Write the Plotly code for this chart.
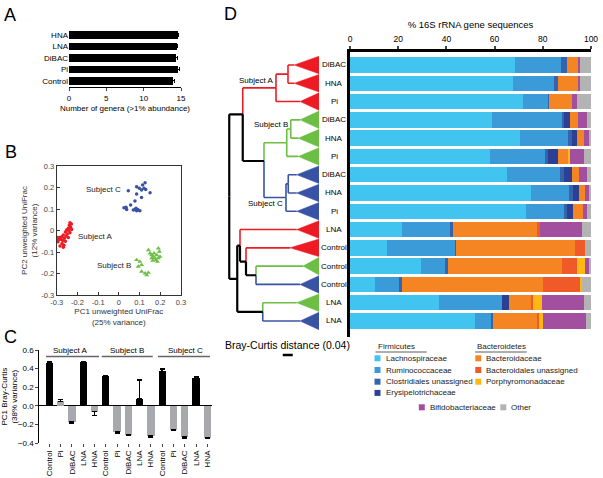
import plotly.graph_objects as go

W, H = 603, 478
def fx(p): return p / W
def fy(p): return 1 - p / H

FONT = "Liberation Sans, Arial, Helvetica, sans-serif"
RED, GREEN, BLUE = "#ED1C24", "#6DBE45", "#3953A4"

# ---------------- Panel A data ----------------
a_groups = ["Control", "Pi", "DiBAC", "LNA", "HNA"]
a_genera = [13.95, 14.65, 14.35, 14.4, 14.6]
a_err = [0.12, 0.12, 0.12, 0.12, 0.12]

# ---------------- Panel B data ----------------
b_a_x = [-0.236, -0.229, -0.239, -0.233, -0.244, -0.228, -0.252, -0.241, -0.236, -0.258, -0.249, -0.268,
         -0.255, -0.244, -0.276, -0.263, -0.287, -0.296, -0.298, -0.292, -0.281, -0.271, -0.258, -0.274,
         -0.265, -0.284, -0.268, -0.294]
b_a_y = [0.036, 0.030, 0.024, 0.015, 0.010, 0.005, 0.002, -0.001, -0.010, -0.007, -0.016, -0.021,
         -0.026, -0.032, -0.029, -0.036, -0.032, -0.033, -0.038, -0.044, -0.041, -0.047, -0.050, -0.060,
         -0.069, -0.072, -0.078, -0.052]
b_c_x = [0.046, 0.086, 0.099, 0.115, 0.127, 0.130, 0.110, 0.122, 0.151, 0.086, 0.110, 0.078, 0.057,
         0.035, 0.025, 0.038, 0.078, 0.086, 0.094, 0.102, 0.083, 0.070, 0.090]
b_c_y = [0.185, 0.204, 0.196, 0.212, 0.222, 0.191, 0.188, 0.196, 0.176, 0.170, 0.154, 0.137, 0.119,
         0.108, 0.106, 0.098, 0.098, 0.092, 0.095, 0.092, 0.103, 0.095, 0.098]
b_b_x = [0.086, 0.102, 0.110, 0.094, 0.110, 0.127, 0.143, 0.135, 0.151, 0.159, 0.167, 0.175, 0.183,
         0.191, 0.196, 0.199, 0.180, 0.170, 0.186, 0.159, 0.143, 0.164, 0.191]
b_b_y = [-0.137, -0.145, -0.160, -0.168, -0.191, -0.199, -0.196, -0.207, -0.106, -0.114, -0.122, -0.129,
         -0.114, -0.083, -0.098, -0.122, -0.137, -0.106, -0.145, -0.129, -0.091, -0.140, -0.129]

# ---------------- Panel C data ----------------
c_treat = ["Control", "Pi", "DiBAC", "LNA", "HNA",
           "Control", "Pi", "DiBAC", "LNA", "HNA",
           "Control", "Pi", "DiBAC", "LNA", "HNA"]
c_subjects = ["Subject A", "Subject B", "Subject C"]
c_values = [0.46, 0.05, -0.17, 0.47, -0.06, 0.32, -0.28, -0.31, 0.08, -0.32, 0.37, -0.255, -0.335, 0.30, -0.34]
c_err = [0.01, 0.02, 0.01, 0.006, 0.04, 0.008, 0.007, 0.005, 0.2, 0.01, 0.025, 0.007, 0.007, 0.015, 0.006]

# ---------------- Panel D data ----------------
d_rows = ["DiBAC", "HNA", "Pi", "DiBAC", "HNA", "Pi", "DiBAC", "HNA", "Pi",
          "LNA", "Control", "Control", "Control", "LNA", "LNA"]
d_subject = ["A", "A", "A", "B", "B", "B", "C", "C", "C", "A", "A", "B", "C", "B", "C"]
families = ["Lachnospiraceae", "Ruminococcaceae", "Clostridiales unassigned", "Erysipelotrichaceae",
            "Bacteroidaceae", "Bacteroidales unassigned", "Porphyromonadaceae", "Bifidobacteriaceae", "Other"]
fam_colors = ["#41C4F0", "#3A9BD8", "#3464AE", "#2B3F93", "#F58423", "#F05A28", "#FDB813", "#A14F9E", "#B3B3B3"]
lachno = [68.5, 67.8, 71.6, 58.8, 70.5, 58.1, 65.0, 75.0, 73.0, 21.7, 15.2, 29.5, 10.4, 37.0, 51.9]
rumino = [19.1, 16.8, 10.7, 29.2, 20.1, 22.8, 22.3, 15.9, 15.6, 20.2, 28.4, 10.3, 10.3, 26.2, 6.9]
clostr = [2.3, 1.8, 0.4, 1.0, 1.5, 1.1, 1.7, 1.5, 1.5, 0.8, 0.2, 0.7, 0.7, 0.0, 0.7]
erysip = [0.0, 0.0, 0.0, 2.3, 2.2, 4.4, 3.0, 2.6, 2.6, 0.0, 0.0, 0.0, 0.0, 2.9, 0.0]
bacter = [4.9, 8.4, 9.3, 3.2, 2.8, 4.2, 2.9, 2.5, 4.1, 34.9, 49.6, 47.3, 58.6, 8.8, 18.0]
bactun = [0.0, 0.0, 0.0, 0.0, 0.0, 0.0, 0.0, 0.0, 0.0, 1.2, 4.1, 6.5, 15.5, 1.1, 1.0]
porphy = [0.0, 0.0, 0.0, 0.0, 0.0, 0.7, 0.0, 0.0, 0.0, 0.0, 0.0, 3.2, 0.7, 3.5, 1.4]
bifido = [0.7, 0.7, 2.3, 4.0, 1.9, 5.8, 3.6, 1.5, 1.7, 17.6, 0.0, 1.7, 0.0, 17.7, 18.1]
other = [4.5, 4.5, 5.7, 1.5, 1.0, 2.9, 1.5, 1.0, 1.5, 3.6, 2.5, 0.8, 3.8, 2.8, 2.0]
d_series = [lachno, rumino, clostr, erysip, bacter, bactun, porphy, bifido, other]

# dendrogram (Bray-Curtis distance from tips; node rows as drawn)
tip_apex = [0.099, 0.099, 0.076, 0.076, 0.083, 0.083, 0.089, 0.089, 0.089,
            0.089, 0.116, 0.064, 0.076, 0.089, 0.076]
node_names = ["A1", "A", "B1", "B", "C1", "C", "BC", "ABC", "CtrlBC", "CtrlA", "LNAA", "LNABC", "Low", "Root"]
node_left = [0, "A1", 3, "B1", 6, "C1", "B", "A", 11, 10, 9, 13, "LNAA", "ABC"]
node_right = [1, 2, 4, 5, 7, 8, "C", "BC", 12, "CtrlBC", "CtrlA", 14, "LNABC", "Low"]
node_height = [0.124, 0.172, 0.113, 0.129, 0.123, 0.132, 0.22, 0.305, 0.252, 0.292, 0.316, 0.225, 0.327, 0.359]
node_row = [0.5, 1.25, 3.5, 4.25, 6.5, 7.25, 5.25, 2.7, 11.5, 10.75, 9.875, 13.5, 11.7, 7.2]
scale_bar = 0.04

fig = go.Figure()

# ---- Panel A
fig.add_trace(go.Bar(x=a_genera, y=a_groups, orientation="h", width=0.65,
                     marker=dict(color="black", line=dict(width=0)),
                     error_x=dict(type="data", array=a_err, color="black", thickness=1, width=2),
                     xaxis="x", yaxis="y"))

# ---- Panel B
fig.add_trace(go.Scatter(x=b_a_x, y=b_a_y, mode="markers", xaxis="x2", yaxis="y2",
                         marker=dict(color=RED, size=3.5, symbol="circle")))
fig.add_trace(go.Scatter(x=b_c_x, y=b_c_y, mode="markers", xaxis="x2", yaxis="y2",
                         marker=dict(color=BLUE, size=3.5, symbol="circle")))
fig.add_trace(go.Scatter(x=b_b_x, y=b_b_y, mode="markers", xaxis="x2", yaxis="y2",
                         marker=dict(color=GREEN, size=4.5, symbol="triangle-up")))

# ---- Panel C
c_pos = list(range(len(c_values)))
c_cols = ["black" if t in ("Control", "LNA") else "#A7A9AC" for t in c_treat]
c_up = [e if v >= 0 else 0 for v, e in zip(c_values, c_err)]
c_dn = [e if v < 0 else 0 for v, e in zip(c_values, c_err)]
fig.add_trace(go.Bar(x=c_pos, y=c_values, width=0.64, xaxis="x3", yaxis="y3",
                     marker=dict(color=c_cols, line=dict(width=0)),
                     error_y=dict(type="data", symmetric=False, array=c_up, arrayminus=c_dn,
                                  color="black", thickness=1.5, width=2.5)))

# ---- Panel D bars
rows = list(range(len(d_rows)))
for name, vals, col in zip(families, d_series, fam_colors):
    fig.add_trace(go.Bar(x=vals, y=rows, orientation="h", width=0.84, name=name,
                         marker=dict(color=col, line=dict(width=0)), xaxis="x4", yaxis="y4"))

# ---- Dendrogram
subj_col = {"A": RED, "B": GREEN, "C": BLUE}
ypos, hpos, colr = {}, {}, {}
for i in rows:
    ypos[i] = i
    hpos[i] = tip_apex[i]
    colr[i] = subj_col[d_subject[i]]
segs = {}
def seg(c, x0, y0, x1, y1):
    xs, ys = segs.setdefault(c, ([], []))
    xs.extend([x0, x1, None]); ys.extend([y0, y1, None])
for n, l, r, h, yr in zip(node_names, node_left, node_right, node_height, node_row):
    ypos[n] = yr
    hpos[n] = h
    colr[n] = colr[l] if colr[l] == colr[r] else "black"
    seg(colr[l], h, ypos[l], h, ypos[n])
    seg(colr[r], h, ypos[n], h, ypos[r])
    for ch in (l, r):
        seg(colr[ch], h, ypos[ch], hpos[ch], ypos[ch])
for c, (xs, ys) in segs.items():
    fig.add_trace(go.Scatter(x=xs, y=ys, mode="lines", xaxis="x5", yaxis="y5",
                             line=dict(color=c, width=2.2 if c == "black" else 1.6)))
tri = {}
for i in rows:
    xs, ys = tri.setdefault(colr[i], ([], []))
    xs.extend([tip_apex[i], 0, 0, tip_apex[i], None])
    ys.extend([i, i - 0.48, i + 0.48, i, None])
for c, (xs, ys) in tri.items():
    fig.add_trace(go.Scatter(x=xs, y=ys, mode="lines", fill="toself", fillcolor=c,
                             line=dict(color=c, width=0.5), xaxis="x5", yaxis="y5"))

ann = []
shapes = []
def text(x, y, t, size=8, xanchor="center", color="black", xref="paper", yref="paper", yanchor="middle"):
    ann.append(dict(x=x, y=y, text=t, showarrow=False, xref=xref, yref=yref, xanchor=xanchor,
                    yanchor=yanchor, font=dict(size=size, color=color, family=FONT)))

# panel letters
text(fx(10), fy(15), "A", size=18)
text(fx(11), fy(152), "B", size=18)
text(fx(10), fy(337), "C", size=18)
text(fx(230), fy(13.5), "D", size=18)

# panel B labels
text(0.02, 0.193, "Subject C", xanchor="right", color="#222", xref="x2", yref="y2")
text(-0.207, -0.026, "Subject A", xanchor="left", color="#222", xref="x2", yref="y2")
text(0.069, -0.165, "Subject B", xanchor="right", color="#222", xref="x2", yref="y2")

# panel C subject headers
for s, cx, x0, x1 in zip(c_subjects, [70, 126.7, 185], [46, 101.7, 158], [99, 152.7, 210]):
    text(fx(cx), fy(350.5), s)
    shapes.append(dict(type="line", xref="paper", yref="paper", x0=fx(x0), x1=fx(x1),
                       y0=fy(356.5), y1=fy(356.5), line=dict(color="#666", width=1.5)))

# panel D row labels
for i, lab in enumerate(d_rows):
    text(fx(334), i, lab, yref="y4")

# dendrogram subject labels
text(0.254, 0.875, "Subject A", xref="x5", yref="y5")
text(0.194, 3.24, "Subject B", xref="x5", yref="y5")
text(0.216, 7.56, "Subject C", xref="x5", yref="y5")

# scale bar
text(fx(287.5), fy(345), "Bray-Curtis distance (0.04)", size=10.5)
shapes.append(dict(type="line", xref="x5", yref="paper", x0=0.145, x1=0.145 - scale_bar,
                   y0=fy(355), y1=fy(355), line=dict(color="black", width=2.5)))

# legend of panel D
def legend_item(cx, cy, tx, name, col):
    shapes.append(dict(type="rect", xref="paper", yref="paper", x0=fx(cx - 3), x1=fx(cx + 3),
                       y0=fy(cy + 3), y1=fy(cy - 3), fillcolor=col, line=dict(width=0)))
    text(fx(tx), fy(cy), name, xanchor="left", color="#222")

text(fx(375.5), fy(346.7), "Firmicutes", xanchor="left", color="#222")
shapes.append(dict(type="line", xref="paper", yref="paper", x0=fx(375.5), x1=fx(426.7),
                   y0=fy(352), y1=fy(352), line=dict(color="#333", width=0.8)))
text(fx(475), fy(346.7), "Bacteroidetes", xanchor="left", color="#222")
shapes.append(dict(type="line", xref="paper", yref="paper", x0=fx(475), x1=fx(526.7),
                   y0=fy(352), y1=fy(352), line=dict(color="#333", width=0.8)))
for k, cy in enumerate([358.3, 370, 381.7, 392.9]):
    legend_item(377.5, cy, 383.5, families[k], fam_colors[k])
for k, cy in enumerate([358.3, 370, 381.7]):
    legend_item(478.3, cy, 484.3, families[4 + k], fam_colors[4 + k])
legend_item(421.8, 407.3, 427.8, families[7], fam_colors[7])
legend_item(503.3, 407.3, 509.3, families[8], fam_colors[8])

tf = dict(size=8, color="black", family=FONT)
common = dict(showgrid=False, zeroline=False, automargin=False)
fig.update_layout(
    width=W, height=H, margin=dict(l=0, r=0, t=0, b=0),
    paper_bgcolor="white", plot_bgcolor="rgba(0,0,0,0)",
    showlegend=False, barmode="stack", font=dict(family=FONT, size=8, color="black"),
    xaxis=dict(domain=[fx(69), fx(181)], range=[0, 15], anchor="y", showline=True, linecolor="black",
               linewidth=1, ticks="outside", ticklen=3, tickvals=[0, 5, 10, 15], tickfont=tf,
               title=dict(text="Number of genera (>1% abundance)", font=tf, standoff=3), **common),
    yaxis=dict(domain=[fy(87.3), fy(29.2)], range=[-0.55, 4.5], anchor="x", showline=False, ticks="",
               tickfont=tf, type="category", **common),
    xaxis2=dict(domain=[fx(56.7), fx(180.9)], range=[-0.3, 0.3], anchor="y2", showline=True, mirror=True,
                linecolor="#333", linewidth=1, ticks="inside", ticklen=3, tickcolor="#333",
                tickvals=[-0.3, -0.2, -0.1, 0, 0.1, 0.2, 0.3],
                ticktext=["-0.3", "-0.2", "-0.1", "0", "0.1", "0.2", "0.3"],
                tickfont=dict(size=7.5, color="#444", family=FONT),
                title=dict(text="PC1 unweighted UniFrac<br>(25% variance)",
                           font=dict(size=8, color="#333", family=FONT), standoff=2), **common),
    yaxis2=dict(domain=[fy(295), fy(166)], range=[-0.3, 0.3], anchor="x2", showline=True, mirror=True,
                linecolor="#333", linewidth=1, ticks="inside", ticklen=3, tickcolor="#333",
                tickvals=[-0.3, -0.2, -0.1, 0, 0.1, 0.2, 0.3],
                ticktext=["-0.3", "-0.2", "-0.1", "0", "0.1", "0.2", "0.3"],
                tickfont=dict(size=7.5, color="#444", family=FONT),
                title=dict(text="PC2 unweighted UniFrac<br>(12% variance)",
                           font=dict(size=8, color="#333", family=FONT), standoff=2), **common),
    xaxis3=dict(domain=[fx(39.3), fx(211.7)], range=[-0.89, 14.39], anchor="y3", showline=False,
                ticks="outside", ticklen=3, tickvals=c_pos, ticktext=c_treat, tickangle=-90,
                tickfont=tf, **common),
    yaxis3=dict(domain=[fy(443.3), fy(350)], range=[-0.4, 0.6], anchor="x3", showline=True,
                linecolor="black", linewidth=1, ticks="outside", ticklen=3,
                tickvals=[-0.4, -0.2, 0, 0.2, 0.4, 0.6], tickformat=".1f", tickfont=tf,
                title=dict(text="PC1 Bray-Curtis<br>(38% variance)", font=tf, standoff=2),
                showgrid=False, zeroline=True, zerolinecolor="black", zerolinewidth=1, automargin=False),
    xaxis4=dict(domain=[fx(350), fx(591)], range=[0, 100], anchor="y4", side="top", showline=True,
                linecolor="black", linewidth=3, ticks="outside", ticklen=3, tickwidth=2,
                tickvals=[0, 20, 40, 60, 80, 100], tickfont=dict(size=8.5, color="black", family=FONT),
                title=dict(text="% 16S rRNA gene sequences", font=dict(size=9.5, color="black", family=FONT),
                           standoff=4), **common),
    yaxis4=dict(domain=[fy(336.7), fy(51.7)], range=[14.86, -0.727], anchor="x4", showline=True,
                linecolor="black", linewidth=3, ticks="", showticklabels=False, **common),
    xaxis5=dict(domain=[fx(220), fx(319)], range=[0.396, 0], anchor="y5", visible=False, **common),
    yaxis5=dict(domain=[fy(336.7), fy(51.7)], range=[14.86, -0.727], anchor="x5", visible=False, **common),
    annotations=ann, shapes=shapes,
)

fig.write_html("out.html", config={"displayModeBar": False},
               post_script="document.body.style.margin='0px';document.body.style.overflow='hidden';")
